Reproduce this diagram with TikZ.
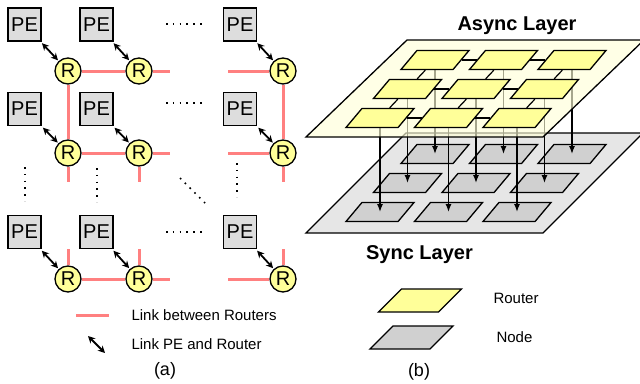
\documentclass[tikz,border=0pt]{standalone}
\usepackage{fontspec}
\setmainfont{Liberation Sans}
\usetikzlibrary{arrows.meta,positioning,shapes.geometric}

\definecolor{peGray}{HTML}{DDDDDD}
\definecolor{rtYellow}{HTML}{FFFF99}
\definecolor{linkRed}{HTML}{FF8080}
\definecolor{asyncFill}{HTML}{FFFFD8}
\definecolor{syncFill}{HTML}{E6E6E6}
\definecolor{nodeGray}{HTML}{D0D0D0}

\pgfdeclarelayer{veil}
\pgfdeclarelayer{front}
\pgfsetlayers{main,veil,front}

\tikzset{
  pe/.style={rectangle,draw,line width=1.5pt,fill=peGray,minimum size=33pt,
    inner sep=0pt,font=\fontsize{20}{24}\selectfont},
  rt/.style={circle,draw,line width=1.3pt,fill=rtYellow,minimum size=26pt,
    inner sep=0pt,font=\fontsize{20}{24}\selectfont},
  dots/.style={line width=1.6pt,dash pattern=on 1.6pt off 5.2pt},
  flat/.style={trapezium,trapezium stretches body,draw,line width=1.3pt,
    inner xsep=0pt,inner ysep=9.5pt,
    trapezium left angle=50,trapezium right angle=130,minimum width=68pt},
  router/.style={flat,fill=rtYellow},
  cell/.style={flat,fill=nodeGray},
  legflat/.style={trapezium left angle=45,trapezium right angle=135,minimum width=83pt,inner ysep=11.5pt},
  legend/.style={anchor=west,font=\fontsize{15}{18}\selectfont},
  title/.style={anchor=base,font=\fontsize{20}{24}\selectfont\bfseries},
  caption/.style={font=\fontsize{18}{22}\selectfont}
}

\begin{document}
\begin{tikzpicture}[x=1pt,y=-1pt]
  \useasboundingbox (0,0) rectangle (640,383);

  % (a) mesh of PEs and routers
  \begin{scope}[every node/.style=pe]
    \node (pe11) at (24.5,24.5) {PE};
    \node (pe12) at (96.5,24.5) {PE};
    \node (pe13) at (240,24.5) {PE};
    \node (pe21) at (24.5,109) {PE};
    \node (pe22) at (96.5,109) {PE};
    \node (pe23) at (240,109) {PE};
    \node (pe31) at (24.5,232) {PE};
    \node (pe32) at (96.5,232) {PE};
    \node (pe33) at (240,232) {PE};
  \end{scope}
  \begin{pgfonlayer}{front}
  \begin{scope}[every node/.style=rt]
    \node (r11) at (68,71) {R};
    \node (r12) at (139,71) {R};
    \node (r13) at (283,71) {R};
    \node (r21) at (68,153) {R};
    \node (r22) at (139,153) {R};
    \node (r23) at (283,153) {R};
    \node (r31) at (68,279) {R};
    \node (r32) at (139,279) {R};
    \node (r33) at (283,279) {R};
  \end{scope}
  \end{pgfonlayer}
  \coordinate (s1a) at (170,71);
  \coordinate (s1b) at (228,71);
  \coordinate (s2a) at (170,153);
  \coordinate (s2b) at (228,153);
  \coordinate (s3a) at (170,279);
  \coordinate (s3b) at (228,279);
  \coordinate (d21) at (68,182);
  \coordinate (d22) at (139,182);
  \coordinate (d23) at (283,182);
  \coordinate (u31) at (68,249);
  \coordinate (u32) at (139,249);
  \coordinate (u33) at (283,249);
  \begin{scope}[every edge/.style={draw=linkRed,line width=3pt}]
    \path (r11) edge (r12);
    \path (r12) edge (s1a);
    \path (s1b) edge (r13);
    \path (r11) edge (r21);
    \path (r13) edge (r23);
    \path (r21) edge (r22);
    \path (r22) edge (s2a);
    \path (s2b) edge (r23);
    \path (r21) edge (d21);
    \path (r22) edge (d22);
    \path (r23) edge (d23);
    \path (u31) edge (r31);
    \path (u32) edge (r32);
    \path (u33) edge (r33);
    \path (r31) edge (r32);
    \path (r32) edge (s3a);
    \path (s3b) edge (r33);
  \end{scope}
  \begin{scope}[>={Stealth[length=7pt,width=7pt]},
      every edge/.style={draw,line width=1.8pt,<->,shorten <=2pt,shorten >=1pt}]
    \path (pe11) edge (r11);
    \path (pe12) edge (r12);
    \path (pe13) edge (r13);
    \path (pe21) edge (r21);
    \path (pe22) edge (r22);
    \path (pe23) edge (r23);
    \path (pe31) edge (r31);
    \path (pe32) edge (r32);
    \path (pe33) edge (r33);
  \end{scope}
  % ellipsis dots
  \draw[dots] (166,24) -- (201.6,24);
  \draw[dots] (166,103) -- (201.6,103);
  \draw[dots] (166,232) -- (201.6,232);
  \draw[dots] (25,167) -- (25,201);
  \draw[dots] (97,168) -- (97,202);
  \draw[dots] (237,163) -- (237,197);
  \draw[dots] (180,178) -- (205,203);
  % legend (a)
  \coordinate (lr1) at (76,315);
  \coordinate (lr2) at (109,315);
  \coordinate (la1) at (88,336);
  \coordinate (la2) at (105,353);
  \path (lr1) edge[draw=linkRed,line width=3pt] (lr2);
  \path (la1) edge[draw,line width=1.8pt,{Stealth[length=7pt,width=7pt]}-{Stealth[length=7pt,width=7pt]}] (la2);
  \node[legend] (txtlink) at (128,315) {Link between Routers};
  \node[legend] (txtpe) at (128,344) {Link PE and Router};
  \node[caption] (capa) at (165,371) {(a)};

  % (b) layers
  \draw[line width=1.3pt,fill=syncFill] (306,233) -- (406,133) -- (643,133) -- (543,233) -- cycle;
  \begin{pgfonlayer}{veil}
    \draw[line width=1.3pt,fill=asyncFill,fill opacity=0.65] (306,137) -- (407,40) -- (644,40) -- (543,137) -- cycle;
  \end{pgfonlayer}
  \node[title] (async) at (517,30) {Async Layer};
  \node[title] (sync) at (419.5,259) {Sync Layer};

  \begin{scope}[every node/.style=cell]
    \node (sn11) at (435,154) {};
    \node (sn12) at (503.5,154) {};
    \node (sn13) at (572,154) {};
    \node (sn21) at (407.5,183) {};
    \node (sn22) at (476,183) {};
    \node (sn23) at (544.5,183) {};
    \node (sn31) at (380,212) {};
    \node (sn32) at (448.5,212) {};
    \node (sn33) at (517,212) {};
  \end{scope}
  \begin{pgfonlayer}{front}
  \begin{scope}[every node/.style=router]
    \node (ar11) at (435,60) {};
    \node (ar12) at (503.5,60) {};
    \node (ar13) at (572,60) {};
    \node (ar21) at (407.5,89) {};
    \node (ar22) at (476,89) {};
    \node (ar23) at (544.5,89) {};
    \node (ar31) at (380,118) {};
    \node (ar32) at (448.5,118) {};
    \node (ar33) at (517,118) {};
  \end{scope}
  \begin{scope}[every edge/.style={draw,line width=1.2pt}]
    \path (ar11) edge (ar12);
    \path (ar12) edge (ar13);
    \path (ar21) edge (ar22);
    \path (ar22) edge (ar23);
    \path (ar31) edge (ar32);
    \path (ar32) edge (ar33);
    \path (ar11) edge (ar21);
    \path (ar12) edge (ar22);
    \path (ar13) edge (ar23);
    \path (ar21) edge (ar31);
    \path (ar22) edge (ar32);
    \path (ar23) edge (ar33);
  \end{scope}
  \end{pgfonlayer}
  \begin{scope}[every edge/.style={draw,line width=1.3pt,-{Latex[length=8pt,width=6pt]}}]
    \path (ar11) edge (sn11.center);
    \path (ar12) edge (sn12.center);
    \path (ar13) edge (sn13.center);
    \path (ar21) edge (sn21.center);
    \path (ar22) edge (sn22.center);
    \path (ar23) edge (sn23.center);
    \path (ar31) edge (sn31.center);
    \path (ar32) edge (sn32.center);
    \path (ar33) edge (sn33.center);
  \end{scope}
  % legend (b)
  \node[router,legflat] (legrt) at (420,300.5) {};
  \node[cell,legflat] (legsn) at (411.5,337.5) {};
  \node[legend] (txtrt) at (490,298) {Router};
  \node[legend] (txtsn) at (493,337) {Node};
  \node[caption] (capb) at (419,371.5) {(b)};
\end{tikzpicture}
\end{document}
